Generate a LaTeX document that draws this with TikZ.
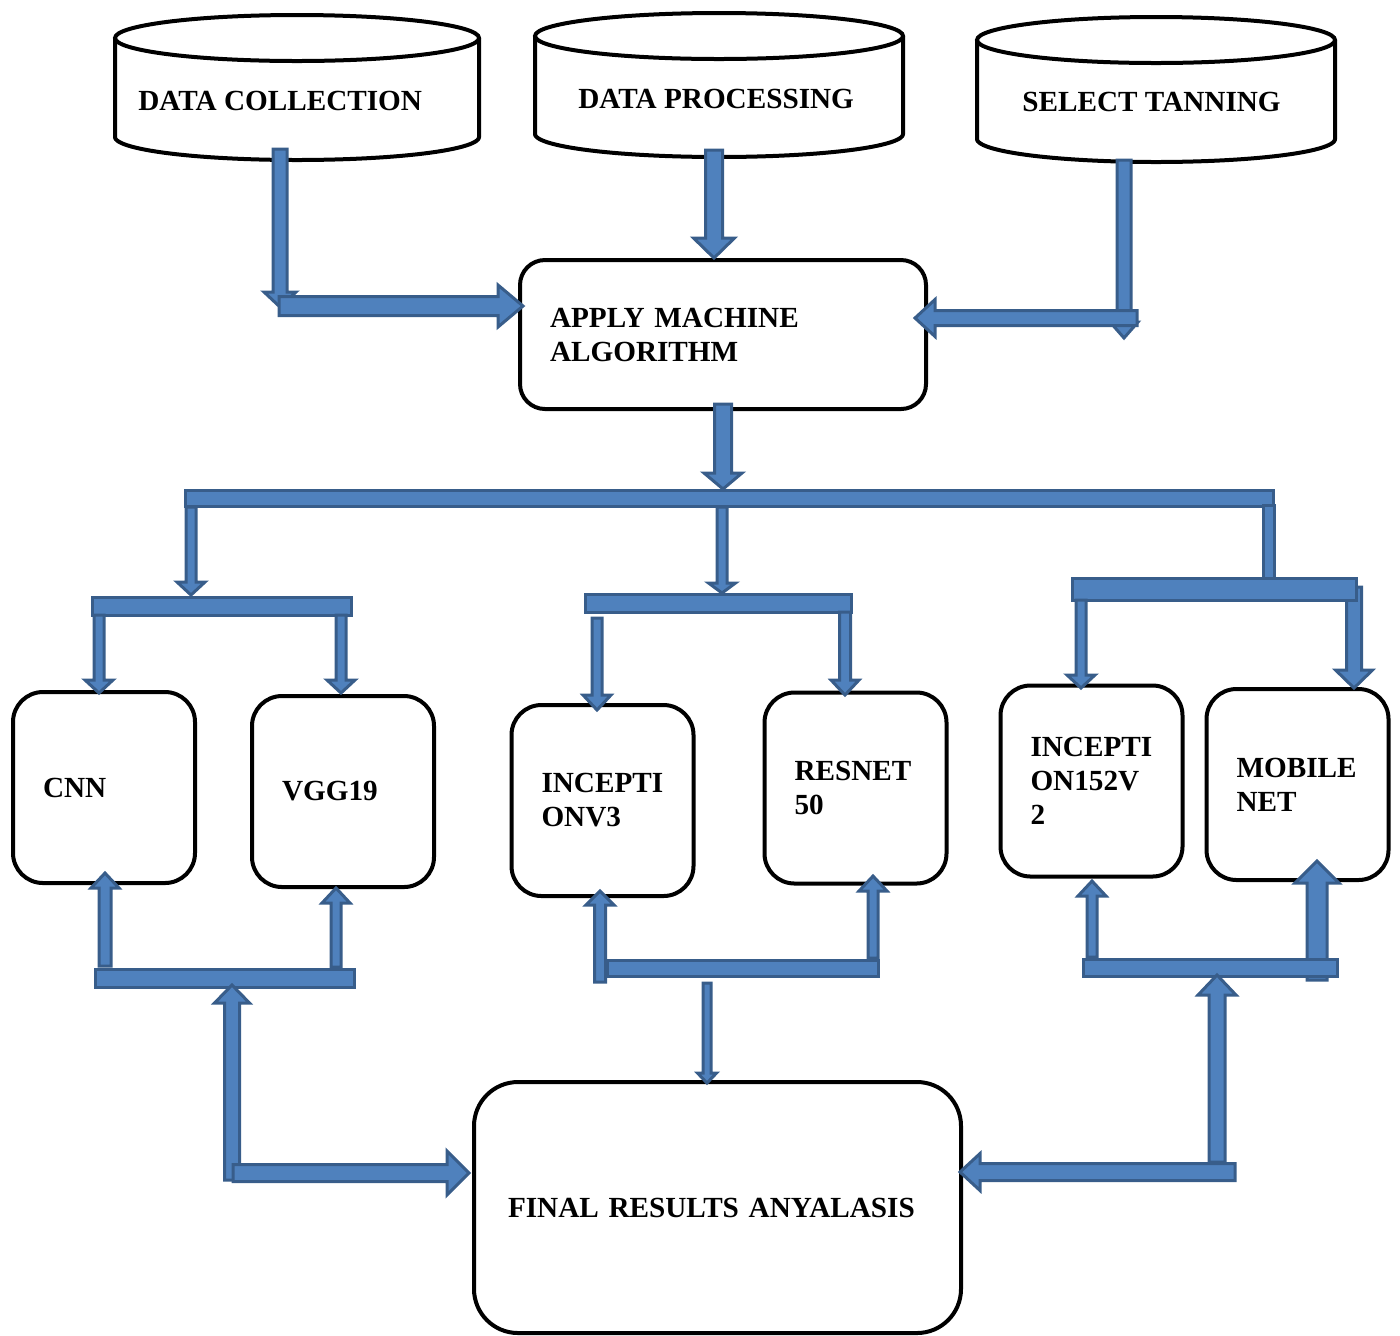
\documentclass[tikz,border=0pt]{standalone}
\usepackage{fontspec}
\setmainfont{Liberation Serif}
\usetikzlibrary{positioning}

\definecolor{blkfill}{HTML}{4F81BD}
\definecolor{blkline}{HTML}{385D8A}

% block arrows and bars, in pixel units of the picture
\newcommand{\vblk}[6]{%
  \pgfmathsetmacro{\hb}{#3>#2 ? #3-#6 : #3+#6}
  \draw[blk] ({#1-#4/2},#2) -- ({#1-#4/2},\hb) -- ({#1-#5/2},\hb) -- (#1,#3)
    -- ({#1+#5/2},\hb) -- ({#1+#4/2},\hb) -- ({#1+#4/2},#2) -- cycle;}
\newcommand{\hblk}[6]{%
  \pgfmathsetmacro{\hb}{#3>#2 ? #3-#6 : #3+#6}
  \draw[blk] (#2,{#1-#4/2}) -- (\hb,{#1-#4/2}) -- (\hb,{#1-#5/2}) -- (#3,#1)
    -- (\hb,{#1+#5/2}) -- (\hb,{#1+#4/2}) -- (#2,{#1+#4/2}) -- cycle;}
\newcommand{\blkbar}[4]{\draw[blk] (#1,#2) rectangle (#3,#4);}
\newcommand{\drum}[5]{%
  \draw[drumline] ({#1-#2},#3) -- ({#1-#2},#4)
    -- plot[domain=180:360, samples=60, variable=\t] ({#1+#2*cos(\t)},{#4-#5*sin(\t)})
    -- ({#1+#2},#3);
  \draw[drumline] (#1,#3) ellipse [x radius=#2, y radius=#5];}

\begin{document}
\begin{tikzpicture}[
    x=0.5pt, y=-0.5pt,
    blk/.style={fill=blkfill, draw=blkline, line width=1.5pt, line join=miter},
    drumline/.style={draw=black, line width=2pt}]

\tikzstyle{label} = [
    font = \fontsize{14.6}{17}\selectfont\bfseries,
    inner sep = 0pt
]
\tikzstyle{model} = [
    draw, line width = 2pt,
    rounded corners = 15pt,
    minimum width = 91pt, minimum height = 95.5pt,
    text width = 61pt, inner xsep = 15pt,
    align = left,
    font = \fontsize{14.6}{17}\selectfont\bfseries
]
\tikzstyle{stage} = [
    draw, line width = 2pt,
    align = left,
    font = \fontsize{14.6}{17}\selectfont\bfseries
]

\useasboundingbox (0,0) rectangle (1400,1335);

\drum{297}{182}{38}{137}{23}
\drum{719}{184}{36}{134}{23}
\drum{1156}{179}{40}{139}{23}
\node [label, anchor=base west] (collect) at (138,110) {DATA COLLECTION};
\node [label, anchor=base west] (process) at (578,108) {DATA PROCESSING};
\node [label, anchor=base west] (select) at (1022,111) {SELECT TANNING};

\node [stage, rounded corners=12.5pt, minimum width=203pt, minimum height=74.5pt,
    text width=173pt, inner xsep=15pt] (apply) at (723,334.5)
    {APPLY MACHINE\\ALGORITHM};

\node [model] (cnn) at (104,787.5) {CNN};
\node [model] (vgg) at (343,791.5) {VGG19};
\node [model] (incv3) at (602.5,800.5) {INCEPTI\\ONV3};
\node [model] (resnet) at (855.5,788) {RESNET\\50};
\node [model] (inc152) at (1091.5,781) {INCEPTI\\ON152V\\2};
\node [model] (mobile) at (1297.5,784.5) {MOBILE\\NET};

\node [stage, rounded corners=22pt, minimum width=243.5pt, minimum height=125.5pt,
    text width=209.5pt, inner xsep=17pt] (final) at (717.5,1207.5)
    {FINAL RESULTS ANYALASIS};

% inputs
\vblk{280}{149}{307}{14}{32}{15}
\hblk{306}{279}{523}{19}{42}{25}
\vblk{714}{150}{258}{17}{41}{20}
\vblk{1124}{160}{338}{14}{28}{16}
\hblk{318}{1137}{915}{15}{37}{20}
\vblk{723}{404}{489}{17}{38}{16}

% split to the models
\blkbar{185}{490}{1273}{506}
\blkbar{1263}{505}{1274}{580}
\blkbar{92}{597}{351}{615}
\blkbar{585}{594}{851}{612}
\vblk{1354}{587}{688}{15}{37}{18}
\blkbar{1072}{578}{1356}{600}
\vblk{191}{507}{595}{10}{28}{13}
\vblk{722}{507}{593}{10}{27}{10}
\vblk{99}{615}{693}{10}{28}{13}
\vblk{341}{615}{693}{10}{28}{13}
\vblk{597}{618}{710}{10}{28}{15}
\vblk{845}{612}{695}{11}{28}{15}
\vblk{1081}{600}{688}{10}{28}{13}

% results
\vblk{105}{966}{873}{12}{28}{15}
\vblk{336}{967}{888}{10}{28}{15}
\blkbar{95}{969}{354}{987}
\vblk{232}{1180}{985}{15}{35}{18}
\hblk{1173}{233}{469}{17}{44}{22}

\vblk{873}{958}{876}{10}{28}{15}
\blkbar{607}{960}{878}{976}
\vblk{600}{982}{891}{11}{28}{14}
\vblk{707}{983}{1083}{8}{19}{10}

\vblk{1092}{957}{881}{10}{28}{15}
\vblk{1317}{980}{861}{20}{44}{22}
\blkbar{1083}{959}{1337}{976}
\vblk{1217}{1162}{975}{16}{38}{20}
\hblk{1172}{1235}{960}{17}{37}{20}
\end{tikzpicture}
\end{document}
